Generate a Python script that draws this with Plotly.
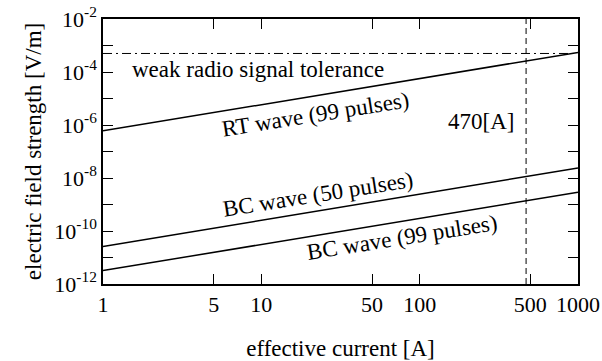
import numpy as np
import plotly.graph_objects as go

# data
current = [1, 1000]
rt_wave_99 = [6.0e-7, 5.5e-4]
bc_wave_50 = [2.6e-11, 2.4e-8]
bc_wave_99 = [3.2e-12, 2.9e-9]
tolerance = 5.0e-4
threshold_current = 470
y_limits = [1e-12, 1e-2]

x_ticks = [1, 5, 10, 50, 100, 500, 1000]
y_major_exps = [-12, -10, -8, -6, -4, -2]
y_minor_exps = [-11, -9, -7, -5, -3]

FONT = "Liberation Serif"
line_style = dict(color="black", width=1.5)

fig = go.Figure()
for ys in (rt_wave_99, bc_wave_50, bc_wave_99):
    fig.add_trace(go.Scatter(x=current, y=ys, mode="lines", line=line_style,
                             showlegend=False, hoverinfo="skip"))
fig.add_trace(go.Scatter(x=current, y=[tolerance, tolerance], mode="lines",
                         line=dict(color="black", width=1, dash="9px,4px,2px,4px"),
                         showlegend=False, hoverinfo="skip"))
fig.add_trace(go.Scatter(x=[threshold_current, threshold_current], y=y_limits, mode="lines",
                         line=dict(color="black", width=1, dash="6px,4px"),
                         showlegend=False, hoverinfo="skip"))

tick_font = dict(family=FONT, size=22, color="black")
title_font = dict(family=FONT, size=23, color="black")

fig.update_xaxes(type="log", range=[0, 3], tickvals=x_ticks, ticktext=[str(v) for v in x_ticks],
                 ticks="inside", ticklen=10, tickwidth=1, tickcolor="black",
                 showline=True, linecolor="black", linewidth=1.5, mirror="ticks",
                 showgrid=False, zeroline=False, tickfont=tick_font, automargin=False,
                 title=dict(text="effective current [A]", font=title_font, standoff=24))
fig.update_yaxes(type="log", range=[-12, -2],
                 tickvals=[10.0 ** e for e in y_major_exps],
                 ticktext=[f"10<sup>{e}</sup>" for e in y_major_exps],
                 minor=dict(tickvals=[10.0 ** e for e in y_minor_exps], ticks="inside",
                            ticklen=10, tickwidth=1, tickcolor="black", showgrid=False),
                 ticks="inside", ticklen=10, tickwidth=1, tickcolor="black",
                 showline=True, linecolor="black", linewidth=1.5, mirror="ticks",
                 showgrid=False, zeroline=False, tickfont=tick_font, automargin=False,
                 title=dict(text="electric field strength [V/m]", font=title_font, standoff=6))

ann_font = dict(family=FONT, size=23, color="black")
fig.add_annotation(x=0.173, y=-3.92, xref="x", yref="y", text="weak radio signal tolerance",
                   showarrow=False, xanchor="left", font=ann_font)
fig.add_annotation(x=1.34, y=-5.62, xref="x", yref="y", text="RT wave (99 pulses)",
                   showarrow=False, textangle=-9, font=ann_font)
fig.add_annotation(x=2.389, y=-5.85, xref="x", yref="y", text="470[A]",
                   showarrow=False, font=ann_font)
fig.add_annotation(x=1.355, y=-8.64, xref="x", yref="y", text="BC wave (50 pulses)",
                   showarrow=False, textangle=-9, font=ann_font)
fig.add_annotation(x=1.89, y=-10.26, xref="x", yref="y", text="BC wave (99 pulses)",
                   showarrow=False, textangle=-9, font=ann_font)

fig.update_layout(width=602, height=361, margin=dict(l=103, r=24, t=19, b=77),
                  plot_bgcolor="white", paper_bgcolor="white",
                  font=dict(family=FONT, color="black"))
fig.write_html("out.html")
